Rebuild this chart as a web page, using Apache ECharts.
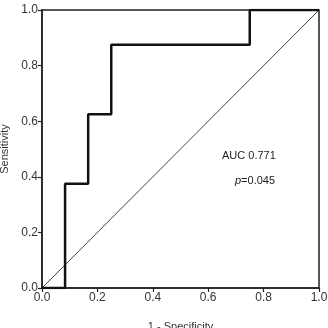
<!DOCTYPE html>
<html>
<head>
<meta charset="utf-8">
<script src="https://cdn.jsdelivr.net/npm/echarts@6/dist/echarts.min.js"></script>
<style>
html, body { margin: 0; padding: 0; background: #fff; }
#main { width: 328px; height: 328px; }
</style>
</head>
<body>
<div id="main"></div>
<script>
// ROC curve steps (1 - specificity, sensitivity)
var rocX = [0, 0.0833, 0.0833, 0.1667, 0.1667, 0.25, 0.25, 0.75, 0.75, 1.0];
var rocY = [0, 0, 0.375, 0.375, 0.625, 0.625, 0.875, 0.875, 1.0, 1.0];
var refX = [0, 1];
var refY = [0, 1];

var myChart = echarts.init(document.getElementById('main'));

var rocData = rocX.map(function (x, i) { return [x, rocY[i]]; });
var refData = refX.map(function (x, i) { return [x, refY[i]]; });

var axisCommon = {
	type: 'value',
	min: 0,
	max: 1,
	interval: 0.2,
	axisLine: { show: true, lineStyle: { color: '#222', width: 1.5 } },
	axisTick: { show: true, length: 4, lineStyle: { color: '#222', width: 1.2 } },
	axisLabel: {
		color: '#333',
		fontFamily: 'Liberation Sans',
		fontSize: 12,
		margin: 4,
		formatter: function (v) { return v.toFixed(1); }
	},
	splitLine: { show: false },
	nameTextStyle: { color: '#333', fontFamily: 'Liberation Sans', fontSize: 11 }
};

var option = {
	animation: false,
	grid: {
		left: 42, right: 9, top: 10, bottom: 40,
		outerBoundsMode: 'none',
		containLabel: false,
		show: true, borderColor: '#222', borderWidth: 1.5
	},
	xAxis: Object.assign({}, axisCommon, {
		name: '1 - Specificity',
		nameLocation: 'middle',
		nameGap: 33
	}),
	yAxis: Object.assign({}, axisCommon, {
		name: 'Sensitivity',
		nameLocation: 'middle',
		nameGap: 28
	}),
	graphic: [
		{ type: 'text', left: 222, top: 150, style: { text: 'AUC 0.771', fill: '#222', font: '11px "Liberation Sans"' } },
		{
			type: 'text', left: 235, top: 175,
			style: {
				text: '{i|p}=0.045',
				fill: '#222',
				font: '11px "Liberation Sans"',
				rich: { i: { fontStyle: 'italic', fontFamily: 'Liberation Sans', fontSize: 11, fill: '#222' } }
			}
		}
	],
	series: [
		{
			type: 'line',
			data: refData,
			symbol: 'none',
			lineStyle: { color: '#444', width: 1 },
			silent: true
		},
		{
			type: 'line',
			data: rocData,
			symbol: 'none',
			lineStyle: { color: '#111', width: 2.5 },
			silent: true
		}
	]
};
myChart.setOption(option);
</script>
</body>
</html>
